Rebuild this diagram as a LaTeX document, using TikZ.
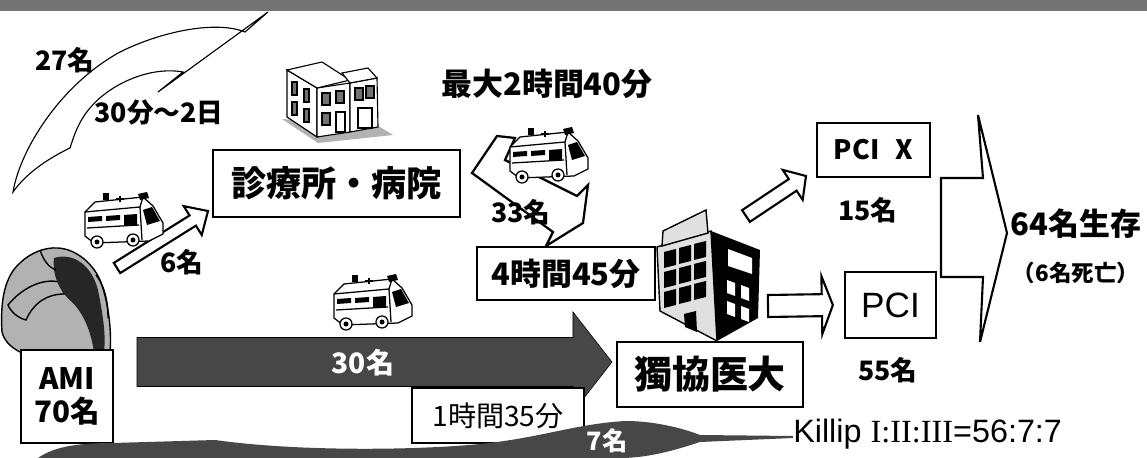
\documentclass[tikz,border=0pt]{standalone}
\usepackage{fontspec}
\setmainfont{Noto Sans CJK JP}
\newfontfamily\killipfont{Liberation Sans}
\newfontfamily\romanfont{Liberation Serif}
\usetikzlibrary{calc}

\newcommand{\fs}[1]{\fontsize{#1}{#1}\selectfont}
% hollow block arrow: [style]{from}{to}{shaft half width}{head half width}{head length}
\newcommand{\hollowarrow}[6][]{%
  \coordinate (ha-b) at ($(#3)!#6!(#2)$);
  \draw[#1] ($(#2)!#4!90:(#3)$) -- ($(ha-b)!#4!-90:(#2)$) -- ($(ha-b)!#5!-90:(#2)$)
    -- (#3) -- ($(ha-b)!#5!90:(#2)$) -- ($(ha-b)!#4!90:(#2)$) -- ($(#2)!#4!-90:(#3)$) -- cycle;}
% small ambulance, top left corner at #1
\newcommand{\ambulance}[1]{%
  \begin{scope}[shift={(#1)}, line width=0.9pt]
    \draw[fill=white] (2,22) -- (12,12) -- (60,7) -- (70,16) -- (80,33) -- (80,44) -- (66,51) -- (11,53) -- (2,46) -- cycle;
    \draw (2,22) -- (57,17) -- (60,7);
    \draw (57,17) -- (59,50);
    \fill (60,20) -- (69,17) -- (77,31) -- (64,35) -- cycle;
    \fill (5,27) -- (19,26) -- (19,31) -- (5,32) -- cycle;
    \fill (23,26) -- (37,25) -- (37,30) -- (23,31) -- cycle;
    \fill (41,25) -- (54,24) -- (54,35) -- (41,36) -- cycle;
    \draw (4,38) -- (56,35);
    \fill (20,3) rectangle (26,10);
    \draw[line width=1.4pt] (33,9) -- (41,9) (37,6) -- (37,12);
    \fill (55,4) -- (64,2) -- (66,8) -- (57,10) -- cycle;
    \foreach \wx/\wy in {14/52, 50/50}{
      \draw[fill=white] (\wx,\wy) circle (6);
      \fill (\wx,\wy) circle (2.5);
    }
  \end{scope}}

\tikzset{
  boxed/.style={draw, line width=1.6pt, fill=white, inner sep=0pt},
  lbl/.style={inner sep=0pt, font=\bfseries\fs{19pt}},
  blockarr/.style={draw, line width=1.5pt, fill=white, line join=miter},
  swoosh/.style={fill=black!72},
}

\begin{document}
\begin{tikzpicture}[x=0.025cm, y=-0.025cm]
  \useasboundingbox (0,0) rectangle (1147,458);

  % top band
  \fill[black!55] (0,0) rectangle (1147,11);

  % curved return arrow
  \draw[line width=0.8pt, fill=white] (13,192) .. controls (20,150) and (60,85) .. (120,52)
    .. controls (160,32) and (215,20) .. (245,32) -- (268,12) -- (158,92) -- (183,72)
    .. controls (150,66) and (110,84) .. (90,108) .. controls (78,122) and (74,136) .. (70,148)
    .. controls (45,160) and (25,175) .. (13,192) -- cycle;
  \node[lbl] (n27) at (65,60) {27名};
  \node[lbl] (t30m) at (159,113) {30分～2日};

  % clinic building
  \begin{scope}[line width=0.8pt]
    \fill[black!30] (282,119) -- (318,143) -- (393,135) -- (380,127) -- cycle;
    \draw[fill=white] (287,70) -- (317,88) -- (317,137) -- (287,117) -- cycle;
    \draw[fill=white] (317,88) -- (350,83) -- (350,132) -- (317,137) -- cycle;
    \draw[fill=white] (287,70) -- (322,62) -- (350,80) -- (317,88) -- cycle;
    \draw[fill=white] (350,83) -- (377,78) -- (378,127) -- (350,132) -- cycle;
    \draw[fill=white] (342,73) -- (368,68) -- (377,78) -- (350,83) -- cycle;
    \foreach \wx/\wy in {292/82, 304/89, 292/102, 304/109}
      \filldraw[fill=black!55] (\wx,\wy) rectangle ++(5,13);
    \foreach \wx/\wy in {322/93, 336/91, 322/113, 355/88, 366/86}
      \filldraw[fill=black!55] (\wx,\wy) rectangle ++(8,12);
    \draw (336,112) rectangle (345,132);
    \draw (358,108) rectangle (372,128);
  \end{scope}

  % university hospital building
  \begin{scope}[line width=1pt]
    \draw[fill=black!12] (657,247) -- (711,231) -- (717,341) -- (660,311) -- cycle;
    \draw[fill=black!12] (662,246) -- (663,231) -- (706,210) -- (708,233) -- cycle;
    \fill (711,231) -- (760,250) -- (758,318) -- (717,341) -- cycle;
    \foreach \i in {0,1,2}
      \foreach \j in {0,1,2}
        \fill ({664+15*\i},{252-4*\i+20*\j}) -- ++(12,-3) -- ++(0,16) -- ++(-12,3) -- cycle;
    \fill (684,314) -- (696,311) -- (697,332) -- (685,327) -- cycle;
    \fill[white] (728,249) -- (752,258) -- (752,274) -- (728,266) -- cycle;
    \foreach \wx/\wy in {727/280, 741/285, 727/301, 741/306}
      \fill[white] (\wx,\wy) -- ++(8,3) -- ++(0,13) -- ++(-8,-3) -- cycle;
  \end{scope}

  % transfer from clinic
  \draw[line width=1.6pt, fill=white, line join=miter] (497,136) -- (472,173) -- (553,232) -- (546,246)
    -- (583,223) -- (588,185) -- (577,196) -- (505,160) -- (515,138) -- cycle;
  \ambulance{508,125}
  \node[lbl, font=\bfseries\fs{22pt}] (tmax) at (547,84) {最大2時間40分};
  \node[lbl] (n33) at (521,212) {33名};

  % boxes
  \node[boxed, minimum width=6.175cm, minimum height=1.675cm, font=\bfseries\fs{25pt}] (clinic) at (336.5,183.5) {診療所・病院};
  \node[boxed, minimum width=4.45cm, minimum height=1.325cm, font=\bfseries\fs{22pt}] (wait4) at (566,273.5) {4時間45分};

  % direct transport to clinic
  \hollowarrow[blockarr]{117,268}{208,211}{0.15cm}{0.425cm}{0.45cm}
  \ambulance{83,190}
  \node[lbl] (n6) at (182,262) {6名};

  % patient
  \draw[line width=1pt, fill=black!30] (2,332) .. controls (0,300) and (5,276) .. (20,263)
    .. controls (30,253) and (45,247) .. (58,248) .. controls (75,249) and (92,262) .. (100,280)
    .. controls (108,300) and (112,330) .. (110,352) -- (20,352) .. controls (10,347) and (4,340) .. (2,332) -- cycle;
  \draw[line width=1pt, fill=black!30] (8,305) .. controls (22,288) and (42,278) .. (60,282)
    -- (64,294) .. controls (48,294) and (34,302) .. (26,320) .. controls (18,318) and (11,312) .. (8,305) -- cycle;
  \fill[black!85] (54,258) .. controls (74,252) and (92,266) .. (98,290) .. controls (103,315) and (106,335) .. (104,352)
    -- (94,352) .. controls (91,332) and (84,314) .. (72,302) .. controls (60,292) and (52,276) .. (54,258) -- cycle;
  \draw[line width=1pt] (40,250) .. controls (44,262) and (50,268) .. (56,270)
    (96,275) .. controls (104,285) and (108,300) .. (108,318);
  \node[boxed, line width=1pt, minimum width=2.3cm, minimum height=2.325cm, align=center,
    font=\bfseries\fs{21pt}] (ami) at (67,396.5) {AMI\\[2pt]70名};

  % direct transport to university hospital
  \hollowarrow[swoosh]{137,362}{612,362}{0.6125cm}{1.25cm}{0.975cm}
  \ambulance{332,272}
  \node[lbl, text=white, font=\bfseries\fs{20pt}] (n30) at (363,363) {30名};
  \node[boxed, line width=1.3pt, minimum width=4.3cm, minimum height=1.375cm, font=\fs{20pt}] (wait1) at (498,415.5) {1時間35分};

  % Killip class and lower sweep
  \node[anchor=base west, inner sep=0pt, font=\killipfont\fs{23pt}] (killip) at (793,443) {Killip {\romanfont I:II:III}=56:7:7};
  \fill[swoosh] (38,458) .. controls (55,446) and (80,443) .. (113,443) -- (215,440)
    .. controls (300,452) and (420,450) .. (480,444) .. controls (540,438) and (575,424) .. (625,421)
    .. controls (660,421) and (690,431) .. (700,435) -- ($(killip.base west)+(0,-7)$) -- ($(killip.base west)+(0,-5)$)
    -- (700,442) .. controls (670,452) and (645,458) .. (620,458) -- cycle;
  \node[lbl, text=white, font=\bfseries\fs{18pt}] (n7) at (607,441) {7名};

  \node[boxed, minimum width=4.65cm, minimum height=1.625cm, font=\bfseries\fs{27pt}] (dokkyo) at (710,374.5) {獨協医大};

  % after arrival
  \node[boxed, minimum width=2.825cm, minimum height=1.35cm, font=\bfseries\fs{19pt}] (pcix) at (873.5,150) {PCI\hspace{0.6em}X};
  \node[boxed, minimum width=2.275cm, minimum height=1.65cm, font=\killipfont\fs{25pt}] (pci) at (890.5,305) {PCI};
  \hollowarrow[blockarr]{746,216}{806,176}{0.175cm}{0.45cm}{0.4cm}
  \hollowarrow[blockarr]{768,306}{$(pci.west)+(-11,0)$}{0.275cm}{0.725cm}{0.275cm}
  \node[lbl] (n15) at (868,210) {15名};
  \node[lbl] (n55) at (888,370) {55名};

  % outcome
  \draw[line width=1.5pt, fill=white, line join=miter] (941,178) -- (983,178) -- (978,115) -- (1007,233)
    -- (980,342) -- (983,277) -- (941,277) -- cycle;
  \node[lbl, font=\bfseries\fs{22pt}] (alive) at (1076,224) {64名生存};
  \node[lbl, font=\bfseries\fs{16pt}] (dead) at (1076,273) {（6名死亡）};
\end{tikzpicture}
\end{document}
